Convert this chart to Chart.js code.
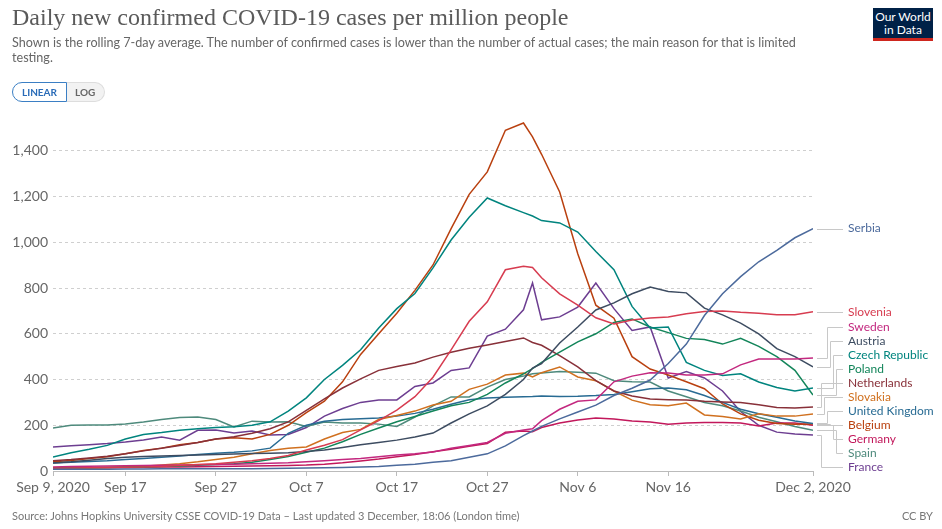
<!DOCTYPE html>
<html><head><meta charset="utf-8">
<script src="https://cdn.jsdelivr.net/npm/chart.js@4.4.0/dist/chart.umd.min.js"></script>
<style>
html,body{margin:0;padding:0;background:#fff;}
#wrap{position:relative;width:942px;height:529px;overflow:hidden;font-family:Lato,sans-serif;}
canvas{position:absolute;left:0;top:0;}
.title{position:absolute;left:12px;top:4px;font-family:"Liberation Serif",serif;font-size:24px;color:#5a5a5a;white-space:nowrap;}
.sub{position:absolute;left:12px;top:35px;width:800px;font-size:12.6px;line-height:15px;color:#666;}
.toggle{position:absolute;left:12px;top:82px;height:20px;display:flex;font-size:10px;font-weight:bold;}
.toggle .lin{border:1px solid #3b7fc4;border-radius:10px 0 0 10px;color:#2a6cb8;background:#fff;padding:0 9px;line-height:18px;}
.toggle .log{border:1px solid #ddd;border-left:none;border-radius:0 10px 10px 0;color:#666;background:#f2f2f2;padding:0 9px 0 8px;line-height:18px;}
.logo{position:absolute;left:873px;top:8px;width:60px;height:33px;background:#002147;color:#fff;font-size:12px;line-height:13px;text-align:center;box-sizing:border-box;padding-top:2px;border-bottom:3px solid #ce261e;}
.foot{position:absolute;left:12px;top:509px;font-size:11px;color:#777;}
.cc{position:absolute;right:9px;top:509px;font-size:11px;color:#777;}
</style></head>
<body><div id="wrap">
<canvas id="c" width="942" height="529"></canvas>
<div class="title">Daily new confirmed COVID-19 cases per million people</div>
<div class="sub">Shown is the rolling 7-day average. The number of confirmed cases is lower than the number of actual cases; the main reason for that is limited testing.</div>
<div class="toggle"><div class="lin">LINEAR</div><div class="log">LOG</div></div>
<div class="logo">Our World<br>in Data</div>
<div class="foot">Source: Johns Hopkins University CSSE COVID-19 Data – Last updated 3 December, 18:06 (London time)</div>
<div class="cc">CC BY</div>
</div>
<script>
// days since Sep 9, 2020
const days = [0,2,4,6,8,10,12,14,16,18,20,22,24,26,28,30,32,34,36,38,40,42,44,46,48,50,52,53,54,56,58,60,62,64,66,68,70,72,74,76,78,80,82,84];
const tickDays = [0,8,18,28,38,48,58,68,84];
const tickLabels = ['Sep 9, 2020','Sep 17','Sep 27','Oct 7','Oct 17','Oct 27','Nov 6','Nov 16','Dec 2, 2020'];
const yTicks = [0,200,400,600,800,1000,1200,1400];

const serbia = [8,8,8,8,9,9,10,10,10,10, 10,10,11,12,13,14,15,17,20,25, 30,38,45,60,75,110,155,175,195,228, 258,288,330,362,398,470,555,680,775,850, 915,965,1020,1060];
const slovenia = [12,13,14,15,16,18,20,24,28,32, 38,45,55,68,92,113,137,180,220,266, 325,410,530,655,740,880,895,890,845,775, 725,670,643,660,669,674,688,697,700,694, 690,683,683,696];
const sweden = [18,20,21,22,23,24,25,26,27,28, 30,32,34,36,40,45,50,55,62,70, 75,83,100,112,125,165,179,185,220,270, 305,311,390,415,430,429,420,420,425,464, 490,490,490,494];
const austria = [35,40,47,55,60,63,66,68,70,72, 74,76,78,80,85,92,103,115,125,135, 149,166,210,250,285,335,400,450,470,560, 630,704,735,775,805,785,779,712,683,647, 600,535,500,455];
const czech = [61,80,95,112,140,160,168,178,185,190, 193,200,215,262,320,400,462,530,625,710, 776,888,1010,1110,1194,1160,1130,1115,1095,1085, 1045,960,880,720,625,630,475,440,418,425, 389,365,350,363];
const poland = [14,14,15,16,17,18,20,22,25,28, 32,38,50,63,82,100,128,160,188,215, 238,262,285,300,335,385,425,448,475,520, 565,600,650,665,630,605,580,575,555,580, 545,500,440,332];
const netherlands = [45,50,57,64,75,88,100,112,125,140, 150,165,185,215,265,315,363,403,440,457, 472,498,519,537,551,566,582,562,550,505, 455,395,350,328,315,312,310,305,302,300, 290,278,276,280];
const slovakia = [10,11,12,14,17,21,26,32,40,50, 60,75,90,100,105,140,168,182,225,243, 262,289,305,357,380,420,428,411,430,455, 411,395,350,310,290,285,297,245,238,227, 250,240,240,249];
const uk = [35,38,42,45,50,55,60,66,72,78, 82,88,100,165,200,218,225,228,232,240, 252,270,292,312,319,323,325,326,328,326, 327,330,335,347,360,363,355,330,300,270, 250,235,219,208];
const belgium = [40,46,55,62,75,90,100,115,125,140, 145,140,160,200,255,305,390,510,600,690, 790,901,1060,1210,1308,1490,1522,1461,1385,1220, 950,725,668,500,446,420,390,360,293,250, 222,208,204,205];
const germany = [13,13,14,14,15,16,17,18,19,20, 21,22,23,24,26,30,36,44,52,62, 72,84,95,108,120,170,175,172,190,210, 223,232,227,219,214,205,210,212,212,210, 197,210,210,200];
const spain = [188,200,201,201,206,214,225,234,236,225, 193,218,214,215,195,214,210,210,205,195, 236,285,324,324,367,400,415,425,429,435, 432,428,395,390,389,350,325,300,285,262, 235,215,195,178];
const france = [105,110,115,120,127,136,149,135,178,179, 166,175,157,160,190,240,273,300,311,311, 370,385,440,451,590,620,705,822,661,674, 717,822,710,615,630,407,435,407,350,260, 200,170,162,157];

const countries = ['Serbia','Slovenia','Sweden','Austria','Czech Republic','Poland','Netherlands','Slovakia','United Kingdom','Belgium','Germany','Spain','France'];
const seriesValues = [serbia,slovenia,sweden,austria,czech,poland,netherlands,slovakia,uk,belgium,germany,spain,france];
const colors = ['#4C6A9C','#D73C50','#C3287F','#3D4C61','#00847E','#13855A','#883039','#D0701F','#286B93','#B9400F','#C2185B','#4E8A7C','#6D3E91'];

const datasets = countries.map((name,i)=>({
  label:name,
  data:days.map((d,j)=>({x:d,y:seriesValues[i][j]})),
  borderColor:colors[i],
  backgroundColor:colors[i],
  borderWidth:1.5,
  pointRadius:0,
  tension:0,
  fill:false
}));

const endLabels = {
  id:'endLabels',
  afterDatasetsDraw(chart){
    const ctx = chart.ctx;
    const items = chart.data.datasets.map((ds,i)=>{
      const meta = chart.getDatasetMeta(i);
      const pt = meta.data[meta.data.length-1];
      return {label:ds.label,color:ds.borderColor,x0:pt.x,y0:pt.y,y:pt.y};
    });
    items.sort((a,b)=>a.y0-b.y0);
    const gap = 14, bottom = 467;
    for(let i=1;i<items.length;i++) if(items[i].y<items[i-1].y+gap) items[i].y = items[i-1].y+gap;
    const n = items.length;
    if(items[n-1].y>bottom){
      items[n-1].y = bottom;
      for(let i=n-2;i>=0;i--) if(items[i].y>items[i+1].y-gap) items[i].y = items[i+1].y-gap;
    }
    ctx.save();
    ctx.font = '12px Lato';
    ctx.textBaseline = 'middle';
    items.forEach((it,k)=>{
      ctx.strokeStyle = '#c8c8c8';
      ctx.lineWidth = 1;
      ctx.beginPath();
      const xs = Math.round(it.x0)+4, xe = 843;
      const ya = Math.round(it.y0)+0.5, yb = Math.round(it.y)+0.5;
      if(Math.abs(ya-yb)<1){ ctx.moveTo(xs,ya); ctx.lineTo(xe,ya); }
      else { const xv = 821.5 + (k%6)*3; ctx.moveTo(xs,ya); ctx.lineTo(xv,ya); ctx.lineTo(xv,yb); ctx.lineTo(xe,yb); }
      ctx.stroke();
      ctx.fillStyle = it.color;
      ctx.fillText(it.label,848,it.y);
    });
    ctx.restore();
  }
};

new Chart(document.getElementById('c'),{
  type:'line',
  data:{datasets},
  plugins:[endLabels],
  options:{
    responsive:false,
    animation:false,
    layout:{padding:{left:0,right:129,top:120,bottom:28}},
    plugins:{legend:{display:false},tooltip:{enabled:false}},
    scales:{
      x:{
        type:'linear',min:0,max:84,
        afterFit(s){ s.height = 30; },
        afterBuildTicks(s){ s.ticks = tickDays.map(v=>({value:v})); },
        ticks:{autoSkip:false,maxRotation:0,padding:3,color:'#666',font:{family:'Lato',size:14},
          callback(v){ const i = tickDays.indexOf(v); return i>=0 ? tickLabels[i] : ''; }},
        grid:{display:true,drawOnChartArea:false,drawTicks:true,tickLength:5,color:'#bbb'},
        border:{display:true,color:'#bbb',width:1}
      },
      y:{
        type:'linear',min:0,max:1535,
        afterFit(s){ s.width = 53; },
        afterBuildTicks(s){ s.ticks = yTicks.map(v=>({value:v})); },
        ticks:{padding:5,color:'#666',font:{family:'Lato',size:14},
          callback(v){ return v.toLocaleString('en-US'); }},
        grid:{drawTicks:false,color:'#cfcfcf'},
        border:{display:false,dash:[3,3]}
      }
    }
  }
});
</script>
</body></html>
